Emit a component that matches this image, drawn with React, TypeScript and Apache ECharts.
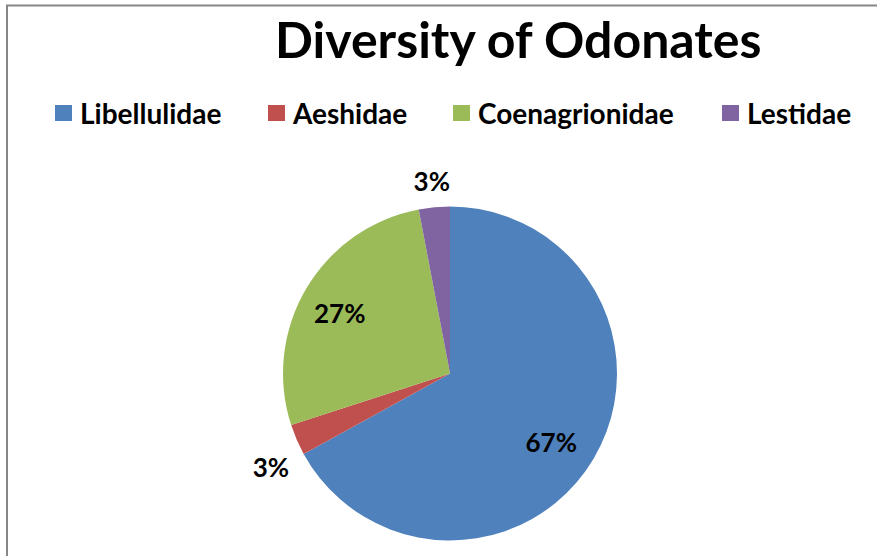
import React, { useEffect, useRef } from "react";
import * as echarts from "echarts";

const categories = ["Libellulidae", "Aeshidae", "Coenagrionidae", "Lestidae"];
const values = [67, 3, 27, 3];
const colors = ["#4F81BD", "#C0504D", "#9BBB59", "#8064A2"];
const titleText = "Diversity of Odonates";

const FONT = "Lato";
// horizontal label nudges (padding) per slice, style only
const labelPads: number[][] = [
  [0, 14, 0, 0],
  [0, 0, 0, 18],
  [0, 4, 0, 0],
  [0, 0, 0, 0],
];

export default function App() {
  const ref = useRef<HTMLDivElement>(null);
  useEffect(() => {
    if (!ref.current) return;
    const chart = echarts.init(ref.current, undefined, { renderer: "svg" });
    const data = categories.map((name, i) => ({
      name,
      value: values[i],
      itemStyle: { color: colors[i] },
    }));
    const cx = 450;
    const cy = 373.5;
    const R = 167;
    const labelStyle = {
      fontFamily: FONT,
      fontWeight: "bold" as const,
      fontSize: 26,
      color: "#000",
    };
    const overlay = (r0: number, r1: number, dy: number, showIdx: number[]) => ({
      type: "pie" as const,
      center: [cx, cy + dy],
      radius: [r0, r1],
      silent: true,
      startAngle: 90,
      clockwise: true,
      avoidLabelOverlap: false,
      labelLine: { show: false },
      itemStyle: { color: "rgba(0,0,0,0)" },
      emphasis: { disabled: true },
      data: categories.map((name, i) => ({
        name,
        value: values[i],
        itemStyle: { color: "rgba(0,0,0,0)" },
        label: {
          show: showIdx.includes(i),
          position: "inside" as const,
          formatter: "{d}%",
          padding: labelPads[i],
          ...labelStyle,
        },
      })),
    });
    const legendLefts = [55, 268, 453, 722];
    chart.setOption({
      animation: false,
      backgroundColor: "#fff",
      title: {
        text: titleText,
        left: 270,
        top: 9,
        textStyle: {
          fontFamily: FONT,
          fontWeight: "bold",
          fontSize: 50,
          color: "#000",
        },
      },
      legend: categories.map((name, i) => ({
        data: [name],
        left: legendLefts[i] - 5,
        top: 94,
        itemWidth: 17,
        itemHeight: 16,
        itemGap: 0,
        icon: "rect",
        selectedMode: false,
        textStyle: {
          fontFamily: FONT,
          fontWeight: "bold",
          fontSize: 28,
          color: "#000",
          padding: [0, 0, 0, 3],
        },
      })),
      graphic: [
        {
          type: "rect",
          shape: { x: 7, y: 5.5, width: 900, height: 600 },
          style: { fill: "none", stroke: "#868686", lineWidth: 2 },
          silent: true,
        },
      ],
      series: [
        {
          type: "pie",
          center: [cx, cy],
          radius: R,
          startAngle: 90,
          clockwise: true,
          avoidLabelOverlap: false,
          label: { show: false },
          labelLine: { show: false },
          emphasis: { disabled: true },
          data,
        },
        overlay(R * 0.47, R, 4, [0, 2]),
        overlay(190, 214, 12, [1]),
        overlay(180, 202, 1, [3]),
      ],
    });
    return () => chart.dispose();
  }, []);
  return (
    <div
      ref={ref}
      style={{ position: "absolute", left: 0, top: 0, width: 877, height: 556 }}
    />
  );
}
